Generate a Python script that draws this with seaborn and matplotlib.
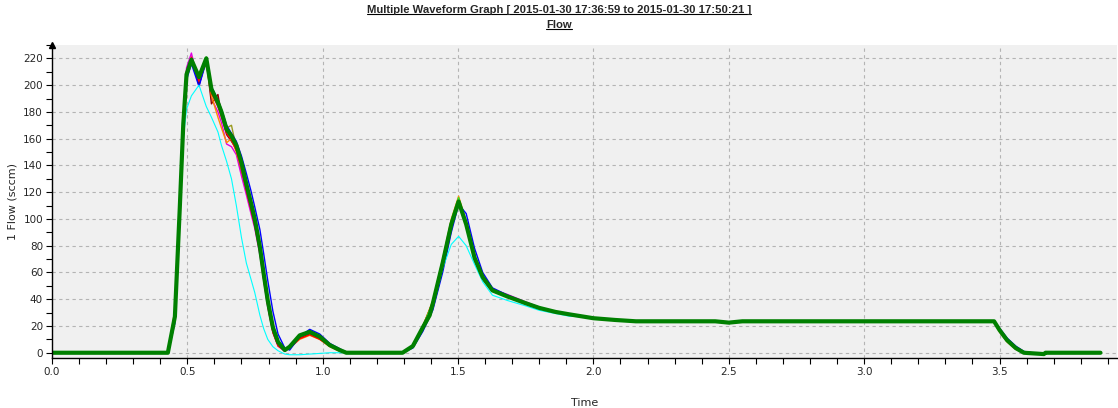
import numpy as np
import pandas as pd
import matplotlib.pyplot as plt
import seaborn as sns
from matplotlib.lines import Line2D
from matplotlib.ticker import MultipleLocator, FormatStrFormatter

# main run (green), whole record
green_t = [0.00, 0.428, 0.454, 0.472, 0.485, 0.497, 0.515, 0.543, 0.570, 0.589,
           0.613, 0.626, 0.645, 0.663, 0.681, 0.700, 0.718, 0.735, 0.749, 0.768,
           0.782, 0.797, 0.816, 0.835, 0.860, 0.878, 0.915, 0.952, 0.989, 1.026,
           1.063, 1.087, 1.295, 1.333, 1.370, 1.395, 1.407, 1.443, 1.475, 1.502,
           1.530, 1.561, 1.591, 1.627, 1.683, 1.750, 1.800, 1.860, 1.911, 2.000,
           2.080, 2.157, 2.450, 2.500, 2.550, 3.480, 3.500, 3.528, 3.560, 3.590,
           3.664, 3.670, 3.873]
green_v = [0, 0, 27, 108, 171, 208, 219, 206, 220, 197,
           187, 180, 167, 162, 155, 142, 126, 112, 100, 79,
           59, 39, 19, 8, 2, 4.5, 13, 15.6, 12, 5.7,
           2, 0, 0, 5, 19, 28, 37, 67, 96, 113,
           96, 71, 56.5, 46.6, 42, 37, 33.5, 30.5, 28.7, 25.8,
           24.5, 23.5, 23.5, 22.5, 23.5, 23.5, 17, 9.4, 3.5, 0,
           -1, 0, 0]

# other runs, first pulse
pulse1_t = [0.40, 0.428, 0.454, 0.472, 0.485, 0.497, 0.515, 0.543, 0.570, 0.589,
            0.613, 0.626, 0.645, 0.663, 0.681, 0.700, 0.718, 0.735, 0.749, 0.768,
            0.782, 0.797, 0.816, 0.835, 0.860, 0.878, 0.915, 0.952, 0.989, 1.026,
            1.063, 1.087, 1.15]
pulse1 = {
    "magenta": [0, 0, 30, 112, 176, 213, 224, 200, 219, 190, 180, 172, 156, 154, 148, 132,
                118, 104, 93, 73, 54, 34, 15, 5, 1, 4, 12, 15, 11, 5, 1.5, 0, 0],
    "maroon": [0, 0, 28, 110, 173, 210, 220, 200, 219, 186, 193, 178, 163, 158, 152, 136,
               122, 108, 96, 76, 56, 36, 16, 6, 1.5, 4, 11, 14, 10.5, 5, 1.5, 0, 0],
    "orange": [0, 0, 32, 115, 178, 210, 218, 204, 216, 192, 176, 168, 157, 160, 150, 137,
               122, 109, 97, 77, 57, 37, 17, 6, 1.5, 3.5, 10, 13, 10, 4.5, 1, 0, 0],
    "olive": [0, 0, 27, 108, 170, 207, 218, 205, 219, 195, 185, 178, 168, 170, 153, 140,
              124, 110, 98, 78, 58, 38, 18, 7, 2, 4.5, 12.5, 15, 11.5, 5.5, 2, 0, 0],
    "red": [0, 0, 29, 111, 174, 209, 221, 203, 220, 194, 184, 176, 164, 159, 151, 138,
            121, 107, 95, 75, 55, 35, 15, 5, 1.5, 3.5, 10.5, 13.5, 10, 5, 1.5, 0, 0],
    "lime": [0, 0, 28, 110, 172, 209, 220, 205, 221, 198, 188, 181, 168, 163, 156, 143,
             127, 113, 101, 80, 60, 40, 20, 8, 2, 4.5, 13, 16, 12, 6, 2, 0, 0],
    "blue": [0, 0, 22, 100, 165, 204, 216, 199, 218, 199, 189, 182, 170, 164, 158, 147,
             134, 121, 109, 92, 74, 54, 31, 14, 3.5, 2, 12, 17.5, 14, 7, 3, 0.5, 0],
    "cyan": [0, 0, 27, 108, 160, 182, 192, 200, 184, 176, 165, 155, 143, 130, 110, 86,
             67, 55, 45, 28, 18, 10, 4.5, 1.5, -1, -1.5, -1.5, -1, -0.5, 0, 0, 0, 0],
}

# other runs, second pulse
pulse2_t = [1.25, 1.295, 1.333, 1.370, 1.407, 1.443, 1.475, 1.502, 1.530, 1.561,
            1.591, 1.627, 1.683, 1.750, 1.800, 1.860, 1.911, 1.960]
pulse2 = {
    "magenta": [0, 0, 5, 19, 37, 67, 96, 113, 97, 72, 57, 47.5, 43.5, 38, 34, 30.5, 28.7, 27.2],
    "maroon": [0, 0, 5, 19.5, 38, 68, 97, 114, 95, 69, 55, 46, 42, 37, 33.5, 30.5, 28.7, 27.2],
    "orange": [0, 0, 5.5, 20, 39, 70, 100, 117, 98, 72, 57, 47, 42.5, 37, 33.5, 30.5, 28.7, 27.2],
    "olive": [0, 0, 5, 19, 37, 67, 96, 113, 96, 71, 56.5, 46.6, 42, 37, 33.5, 30.5, 28.7, 27.2],
    "red": [0, 0, 5, 20, 38, 68, 98, 115, 96, 70, 55, 46, 42, 37, 33.5, 30.5, 28.7, 27.2],
    "lime": [0, 0, 5, 20, 38, 69, 99, 116, 97, 71, 56, 46.5, 42, 37, 33.5, 30.5, 28.7, 27.2],
    "blue": [0, 0, 3.5, 16, 32, 60, 90, 111, 104, 78, 60, 48.5, 43, 37.5, 34, 30.5, 28.7, 27.2],
    "cyan": [0, 0, 4.5, 18, 34, 63, 81, 87, 80, 66, 53, 43, 39, 35, 31.7, 29.3, 27.3, 26.8],
}

# last fall
fall_t = [3.45, 3.48, 3.50, 3.528, 3.56, 3.59, 3.62]
fall = {
    "orange": [23.5, 23.0, 15.5, 8.0, 2.5, 0, 0],
    "blue": [23.5, 23.5, 18.5, 11.0, 5.0, 1.0, 0],
}

colors = {"magenta": "#e000e0", "maroon": "#8b0000", "orange": "#ff8c00",
          "olive": "#9a9a20", "red": "#ff0000", "lime": "#30e030",
          "blue": "#0000ff", "cyan": "#00ffff", "green": "#008000"}

parts = []
for seg, (tt, runs) in enumerate([(pulse1_t, pulse1), (pulse2_t, pulse2), (fall_t, fall)]):
    for name, vals in runs.items():
        parts.append(pd.DataFrame({"time": tt, "flow": vals, "run": name, "seg": seg}))
parts.append(pd.DataFrame({"time": green_t, "flow": green_v, "run": "green", "seg": 9}))
df = pd.concat(parts, ignore_index=True)

sns.set_style("ticks", {"axes.facecolor": "#f0f0f0"})
plt.rcParams['font.family'] = ['DejaVu Sans']

fig = plt.figure(figsize=(11.18, 4.08), dpi=100)
ax = fig.add_axes([0.0465, 0.1233, 0.9526, 0.7664])

order = ["magenta", "maroon", "orange", "olive", "red", "lime", "blue", "cyan", "green"]
for name in order:
    for seg, part in df[df.run == name].groupby("seg"):
        lw = 3.0 if name == "green" else (0.8 if name == "cyan" else 1.0)
        sns.lineplot(data=part, x="time", y="flow", color=colors[name], lw=lw,
                     sort=False, estimator=None, ax=ax, legend=False)

ax.set_xlim(0, 3.934)
ax.set_ylim(-3.7, 230)
ax.xaxis.set_major_locator(MultipleLocator(0.5))
ax.xaxis.set_minor_locator(MultipleLocator(0.1))
ax.xaxis.set_major_formatter(FormatStrFormatter('%.1f'))
ax.yaxis.set_major_locator(MultipleLocator(20))
ax.yaxis.set_minor_locator(MultipleLocator(10))
ax.tick_params(which='both', length=4.5, width=0.8, color='black', labelsize=7.5, pad=2)
ax.grid(True, which='major', ls=(0, (3, 3)), color='#b4b4b4', lw=0.8)
for s in ["top", "right"]:
    ax.spines[s].set_visible(False)
for s in ["left", "bottom"]:
    ax.spines[s].set_color("black")
    ax.spines[s].set_linewidth(1.0)
ax.plot([0], [1], transform=ax.transAxes, marker='^', color='black', ms=4, clip_on=False)

ax.set_xlabel("Time", fontsize=8, labelpad=15)
ax.set_ylabel("1 Flow (sccm)", fontsize=8, labelpad=4)

t1 = fig.text(0.5, 0.975, "Multiple Waveform Graph [ 2015-01-30 17:36:59 to 2015-01-30 17:50:21 ]",
              ha='center', va='center', fontsize=8.1, fontweight='bold', family='Liberation Sans')
t2 = fig.text(0.5, 0.939, "Flow", ha='center', va='center', fontsize=8.1, fontweight='bold',
              family='Liberation Sans')
fig.canvas.draw()
r = fig.canvas.get_renderer()
for t in (t1, t2):
    bb = t.get_window_extent(r).transformed(fig.transFigure.inverted())
    fig.add_artist(Line2D([bb.x0, bb.x1], [bb.y0 + 0.002, bb.y0 + 0.002], color='black',
                          lw=0.8, transform=fig.transFigure))

fig.savefig("out.png", dpi=100)
